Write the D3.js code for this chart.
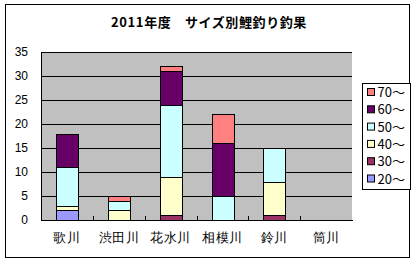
<!DOCTYPE html>
<html>
<head>
<meta charset="utf-8">
<script src="https://cdn.jsdelivr.net/npm/d3@7"></script>
<style>
  html, body { margin: 0; padding: 0; background: #fff; }
  svg { display: block; font-family: "Noto Sans CJK JP", "Noto Sans", sans-serif; }
</style>
</head>
<body>
<div id="chart"></div>
<script>
"use strict";

/* ── Data ── */
const rivers  = ["歌川", "渋田川", "花水川", "相模川", "鈴川", "筒川"];
const sizes   = ["20～", "30～", "40～", "50～", "60～", "70～"];
const s20     = [2, 0, 0, 0, 0, 0];
const s30     = [0, 0, 1, 0, 1, 0];
const s40     = [1, 2, 8, 0, 7, 0];
const s50     = [8, 2, 15, 5, 7, 0];
const s60     = [7, 0, 7, 11, 0, 0];
const s70     = [0, 1, 1, 6, 0, 0];
const yTicks  = [0, 5, 10, 15, 20, 25, 30, 35];
const colours = ["#9999ff", "#993366", "#ffffcc", "#ccffff", "#660066", "#ff8080"];

const series = [s20, s30, s40, s50, s60, s70];
const rows = rivers.map((r, i) => {
  const o = { river: r };
  sizes.forEach((s, k) => { o[s] = series[k][i]; });
  return o;
});

/* ── Dimensions ── */
const W = 419, H = 261;
const plot = { left: 41, right: 352, top: 52, bottom: 220 };

const svg = d3.select("#chart").append("svg")
  .attr("width", W).attr("height", H);

/* outer frame */
svg.append("rect")
  .attr("x", 5.5).attr("y", 4.5).attr("width", 404).attr("height", 253)
  .attr("fill", "#fff").attr("stroke", "#000").attr("stroke-width", 1);

/* title */
svg.append("text")
  .attr("x", 209).attr("y", 27)
  .attr("text-anchor", "middle")
  .attr("font-size", "13px").attr("font-weight", "bold")
  .attr("letter-spacing", "0.6px")
  .text("2011年度　サイズ別鯉釣り釣果");

/* ── Scales ── */
const x = d3.scaleBand().domain(rivers).range([plot.left, plot.right]).paddingInner(0.58).paddingOuter(0.29);
const xOuter = d3.scaleBand().domain(rivers).range([plot.left, plot.right]);
const y = d3.scaleLinear().domain([0, 35]).range([plot.bottom, plot.top]);

/* plot background */
svg.append("rect")
  .attr("x", plot.left).attr("y", plot.top)
  .attr("width", plot.right - plot.left).attr("height", plot.bottom - plot.top)
  .attr("fill", "#c0c0c0");

/* gridlines */
svg.append("g")
  .attr("transform", `translate(${plot.left},0)`)
  .call(d3.axisLeft(y).tickValues(yTicks.slice(1)).tickSize(-(plot.right - plot.left)).tickFormat(""))
  .call(g => {
    g.select(".domain").remove();
    g.selectAll("line").attr("stroke", "#000").attr("shape-rendering", "crispEdges");
  });

/* ── Stacked bars ── */
const stack = d3.stack().keys(sizes)(rows);

svg.append("g").selectAll("g")
  .data(stack)
  .join("g")
  .attr("fill", (d, i) => colours[i])
  .selectAll("rect")
  .data(d => d.filter(p => p[1] - p[0] > 0))
  .join("rect")
  .attr("x", d => Math.round(x(d.data.river)) + 0.5)
  .attr("y", d => Math.round(y(d[1])) + 0.5)
  .attr("width", Math.round(x.bandwidth()))
  .attr("height", d => Math.round(y(d[0])) - Math.round(y(d[1])))
  .attr("stroke", "#000").attr("stroke-width", 1);

/* ── Axes ── */
svg.append("g")
  .attr("transform", `translate(${plot.left},0)`)
  .call(d3.axisLeft(y).tickValues(yTicks).tickSize(0).tickPadding(13))
  .call(g => {
    g.select(".domain").attr("stroke", "#000").attr("shape-rendering", "crispEdges");
    g.selectAll(".tick text").attr("fill", "#000").attr("font-size", "12px")
      .attr("font-family", "\"Liberation Sans\", sans-serif");
  });

svg.append("g")
  .attr("transform", `translate(0,${plot.bottom})`)
  .call(d3.axisBottom(xOuter).tickSize(0).tickPadding(13))
  .call(g => {
    g.select(".domain").attr("stroke", "#000").attr("shape-rendering", "crispEdges");
    g.selectAll(".tick text").attr("fill", "#000").attr("font-size", "13px")
      .attr("letter-spacing", "0.5px");
  });

/* category separators (inside ticks) */
svg.append("g").selectAll("line")
  .data(rivers.slice(1))
  .join("line")
  .attr("x1", d => Math.round(xOuter(d)) + 0.5).attr("x2", d => Math.round(xOuter(d)) + 0.5)
  .attr("y1", plot.bottom).attr("y2", plot.bottom - 4)
  .attr("stroke", "#000");

/* ── Legend ── */
const lg = svg.append("g").attr("transform", "translate(362.5,83.5)");
lg.append("rect").attr("width", 48).attr("height", 106)
  .attr("fill", "#fff").attr("stroke", "#000");

sizes.slice().reverse().forEach((s, i) => {
  const k = sizes.length - 1 - i;
  const g = lg.append("g").attr("transform", `translate(5,${5 + i * 17.3})`);
  g.append("rect").attr("width", 7).attr("height", 7)
    .attr("fill", colours[k]).attr("stroke", "#000");
  g.append("text").attr("x", 10).attr("y", 8.5)
    .attr("font-size", "13px").attr("fill", "#000").text(s);
});
</script>
</body>
</html>
